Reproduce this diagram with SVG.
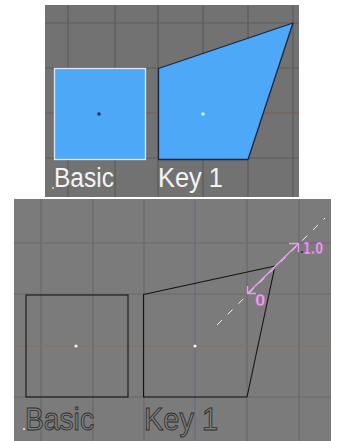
<svg xmlns="http://www.w3.org/2000/svg" width="339" height="441" viewBox="0 0 339 441">
<style>
.grid1{stroke:#5c5c5c;stroke-width:1.2}
.grid2{stroke:#6a6a6a;stroke-width:1.2}
.lblT{font-family:"Gill Sans","Liberation Sans",sans-serif;font-size:27px;fill:#f4f4f4}
.lblB{font-family:"Gill Sans","Liberation Sans",sans-serif;font-size:31px;fill:#7e7e7e;stroke:#2e2e2e;stroke-width:0.9}
.pink{stroke:#e6a0ee;stroke-width:1.3;fill:none}
.ptxt{font-family:"DejaVu Sans",sans-serif;font-size:15px;font-weight:bold;fill:#e7a6ea;stroke:#b05cb8;stroke-width:0.6}
</style>
<rect width="339" height="441" fill="#ffffff"/>
<g id="top-panel">
<rect x="45" y="5" width="254" height="192" fill="#727272"/>
<g class="grid1">
<line x1="68" y1="5" x2="68" y2="197"/><line x1="115" y1="5" x2="115" y2="197"/><line x1="158" y1="5" x2="158" y2="197"/><line x1="203" y1="5" x2="203" y2="197"/><line x1="248" y1="5" x2="248" y2="197"/><line x1="293" y1="5" x2="293" y2="197"/>
<line x1="45" y1="23" x2="299" y2="23"/><line x1="45" y1="68" x2="299" y2="68"/><line x1="45" y1="158" x2="299" y2="158"/>
</g>
<line x1="45" y1="113" x2="299" y2="113" stroke="#7a5a52" stroke-width="1.2"/>
</g>
<g id="basic-top">
<rect x="54.5" y="68.5" width="91" height="91" fill="#4da8f8" stroke="#dde8f4" stroke-width="1.3"/>
<circle cx="99" cy="114" r="1.8" fill="#1a2a6a"/>
<text class="lblT" x="54" y="187" textLength="60" lengthAdjust="spacingAndGlyphs">Basic</text>
<circle cx="53" cy="188" r="1" fill="#e8e090"/>
</g>
<g id="key1-top">
<polygon points="158.5,68.5 293,23 248,159.5 158.5,159.5" fill="#4da8f8" stroke="#1a2640" stroke-width="1.3" stroke-linejoin="round"/>
<circle cx="203" cy="114" r="1.8" fill="#c8f0f0"/>
<text class="lblT" x="158" y="187" textLength="65" lengthAdjust="spacingAndGlyphs">Key 1</text>
</g>
<g id="bottom-panel">
<rect x="14" y="199" width="317" height="242" fill="#7b7b7b"/>
<g class="grid2">
<line x1="41" y1="199" x2="41" y2="441"/><line x1="93" y1="199" x2="93" y2="441"/><line x1="144" y1="199" x2="144" y2="441"/><line x1="247" y1="199" x2="247" y2="441"/><line x1="299" y1="199" x2="299" y2="441"/>
<line x1="14" y1="243" x2="331" y2="243"/><line x1="14" y1="294" x2="331" y2="294"/><line x1="14" y1="397" x2="331" y2="397"/>
</g>
<line x1="195" y1="199" x2="195" y2="441" stroke="#6a6a8c" stroke-width="1.2"/>
<line x1="14" y1="346" x2="331" y2="346" stroke="#8a7060" stroke-width="1.2"/>
</g>
<g id="basic-bottom">
<rect x="26" y="295" width="102" height="102" fill="none" stroke="#141414" stroke-width="1.1"/>
<circle cx="76" cy="346" r="1.6" fill="#f0f0f0"/>
<text class="lblB" x="25" y="430" textLength="69" lengthAdjust="spacingAndGlyphs">Basic</text>
<circle cx="24" cy="429" r="1" fill="#f0f0f0"/>
</g>
<g id="key1-bottom">
<polygon points="143.5,294.5 275,266 247,397 143.5,397" fill="none" stroke="#141414" stroke-width="1.1" stroke-linejoin="round"/>
<circle cx="195" cy="346" r="1.6" fill="#f0f0f0"/>
<text class="lblB" x="144" y="430" textLength="74" lengthAdjust="spacingAndGlyphs">Key 1</text>
</g>
<g id="connectors">
<line x1="217" y1="325" x2="325" y2="218" stroke="#f2f2f2" stroke-width="1" stroke-dasharray="7,8"/>
<line x1="248" y1="293" x2="298" y2="244" class="pink"/>
<polyline points="247.5,286 247.5,293.5 256,293.5" class="pink"/>
<polyline points="289,243.5 298.5,243.5 298.5,252" class="pink"/>
<circle cx="302" cy="252" r="0.9" fill="#202020"/>
<text class="ptxt" x="303" y="254" textLength="20" lengthAdjust="spacingAndGlyphs">1.0</text>
<text class="ptxt" x="255" y="306">0</text>
</g>
</svg>
